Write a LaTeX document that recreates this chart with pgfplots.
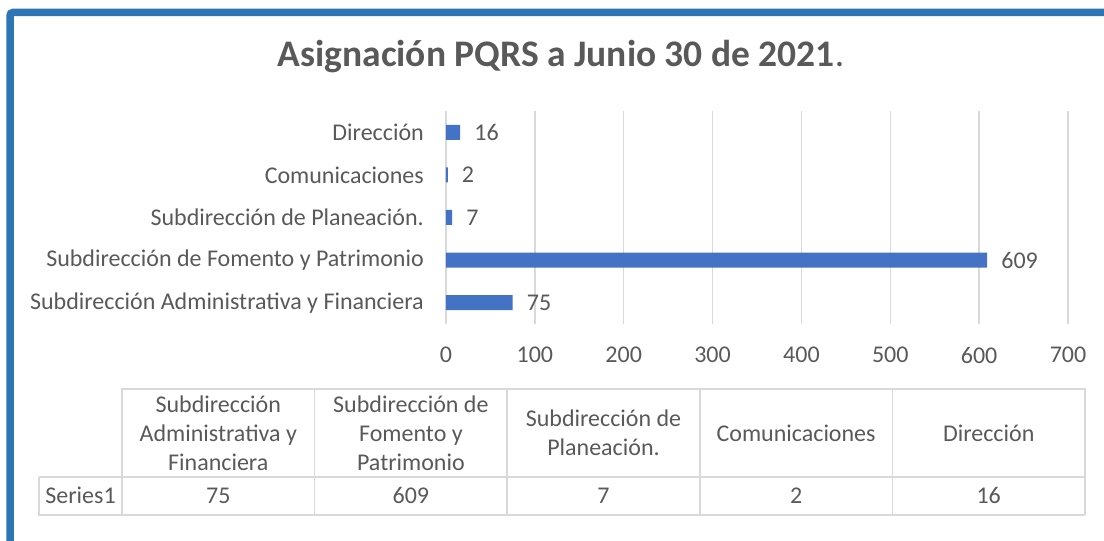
\documentclass[border=0pt]{standalone}
\usepackage{pgfplots}
\usepackage{pgfplotstable}
\pgfplotsset{compat=1.18}
\usepackage{fontspec}
\setmainfont{Carlito}
\definecolor{barblue}{HTML}{4472C4}
\definecolor{txtgray}{HTML}{595959}
\definecolor{gridgray}{HTML}{D9D9D9}
\definecolor{frameblue}{HTML}{2E75B6}
\pgfplotstableread{
i v
0 75
1 609
2 7
3 2
4 16
}\data
\newcommand{\cellval}[1]{\pgfplotstablegetelem{#1}{v}\of\data\pgfplotsretval}
\begin{document}
\begin{tikzpicture}
\useasboundingbox (0pt,0pt) rectangle (1104pt,541pt);
% frame
\draw[frameblue, line width=7.5pt, rounded corners=3pt] (10pt,0pt) -- (10pt,528.5pt) -- (1104pt,528.5pt);
% title
\node[anchor=base, text=txtgray, inner sep=0pt] at (561pt,474pt) {\fontsize{37.5}{44}\selectfont\textbf{Asignación PQRS a Junio 30 de 2021}.};
\begin{axis}[
  at={(446pt,217pt)}, anchor=south west,
  scale only axis, width=622pt, height=213pt,
  xmin=0, xmax=700, ymin=-0.5, ymax=4.5,
  xbar, bar width=15pt,
  axis line style={draw=none},
  major tick length=0pt,
  xtick={0,100,...,700},
  ytick={0,1,2,3,4},
  yticklabels={Subdirección Administrativa y Financiera, Subdirección de Fomento y Patrimonio, Subdirección de Planeación., Comunicaciones, Dirección},
  xmajorgrids, ymajorgrids=false,
  grid style={gridgray, line width=1.3pt},
  tick label style={font=\fontsize{24}{28}\selectfont, text=txtgray},
  /pgf/number format/assume math mode=true,
  xticklabel style={anchor=north, inner sep=0pt, yshift=-23pt},
  yticklabel style={anchor=east, inner sep=0pt, xshift=-22pt},
  nodes near coords,
  nodes near coords style={font=\fontsize{24}{28}\selectfont, text=txtgray, anchor=west, inner sep=0pt, xshift=14pt},
  clip=false,
]
\addplot[fill=barblue, draw=none] table[x=v, y=i] {\data};
\end{axis}
% data table
\begin{scope}[gridgray, line width=1.5pt]
\draw (122pt,152pt) -- (122pt,64pt) -- (1085pt,64pt) -- (1085pt,152pt) -- cycle;
\draw (39pt,64pt) -- (39pt,26pt) -- (1085pt,26pt);
\draw (39pt,64pt) -- (122pt,64pt);
\foreach \xx in {122,314.6,507.2,699.8,892.4,1085} \draw (\xx pt,152pt) -- (\xx pt,26pt);
\end{scope}
\begin{scope}[every node/.style={text=txtgray, align=center, font=\fontsize{24}{29}\selectfont, inner sep=0pt}]
\node at (218.3pt,108pt) {Subdirección\\Administrativa y\\Financiera};
\node at (410.9pt,108pt) {Subdirección de\\Fomento y\\Patrimonio};
\node at (603.5pt,108pt) {Subdirección de\\Planeación.};
\node at (796.1pt,108pt) {Comunicaciones};
\node at (988.7pt,108pt) {Dirección};
\node[anchor=base] at (80.5pt,37pt) {Series1};
\node[anchor=base] at (218.3pt,37pt) {\cellval{0}};
\node[anchor=base] at (410.9pt,37pt) {\cellval{1}};
\node[anchor=base] at (603.5pt,37pt) {\cellval{2}};
\node[anchor=base] at (796.1pt,37pt) {\cellval{3}};
\node[anchor=base] at (988.7pt,37pt) {\cellval{4}};
\end{scope}
\end{tikzpicture}
\end{document}
